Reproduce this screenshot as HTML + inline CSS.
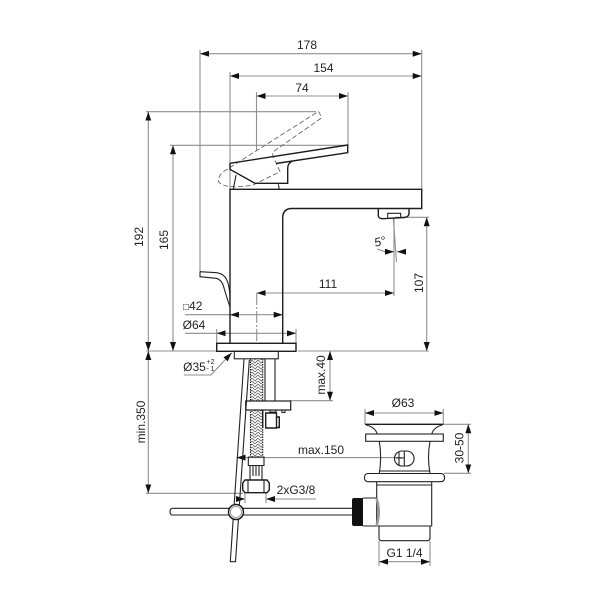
<!DOCTYPE html>
<html><head><meta charset="utf-8"><style>
html,body{margin:0;padding:0;background:#fff}
svg{display:block}
text{font-family:"Liberation Sans",sans-serif;font-size:12px;fill:#222;text-anchor:middle}
.d{stroke:#8f8f8f;stroke-width:1.1;fill:none}
.o{stroke:#222;stroke-width:1.1;fill:none}
.t{stroke:#1c1c1c;stroke-width:1.4;fill:none}
.w{stroke:#1c1c1c;stroke-width:1.2;fill:#fff}
</style></head><body>
<svg width="603" height="603" viewBox="0 0 603 603" xmlns="http://www.w3.org/2000/svg">
<defs>
<marker id="a" markerUnits="userSpaceOnUse" markerWidth="10" markerHeight="7" refX="9" refY="3" orient="auto-start-reverse"><path d="M0 0L9 3L0 6Z" fill="#111"/></marker>
<pattern id="br" width="6" height="6" patternUnits="userSpaceOnUse"><path d="M0 0L3 3L6 0M0 3L3 6L6 3" fill="none" stroke="#666" stroke-width=".8"/></pattern>
</defs>

<!-- extension lines -->
<path class="d" d="M200 50V272M230 72V189M256.500 92V150M348 92V146M421.700 50V189
M146 111.700H316M170 145.300H347M146 351H216M298 351H429M395 217.300H429
M185 314.700H230M185 333.300H217M216.700 329V343M296 329V343M290 400.700H333
M146 493.300H243M405 424.300H471M444 473.300H471M379 541V566M430 541V566
M245 493V503M266 493V503M394 219V296"/>
<path class="d" d="M256.700 293V343" stroke-dasharray="12 2 2 2"/>
<path class="d" d="M365 409V424M443.300 409V424"/>

<!-- dimension lines -->
<g class="d">
<path d="M200 53.700H421.700" marker-start="url(#a)" marker-end="url(#a)"/>
<path d="M230 76H421.700" marker-start="url(#a)" marker-end="url(#a)"/>
<path d="M256.500 96H348" marker-start="url(#a)" marker-end="url(#a)"/>
<path d="M148.300 111.700V351" marker-start="url(#a)" marker-end="url(#a)"/>
<path d="M173 145.300V351" marker-start="url(#a)" marker-end="url(#a)"/>
<path d="M426.700 217.300V351" marker-start="url(#a)" marker-end="url(#a)"/>
<path d="M256.700 293H394" marker-start="url(#a)" marker-end="url(#a)"/>
<path d="M230 314.700H282.700" marker-start="url(#a)" marker-end="url(#a)"/>
<path d="M216.700 333.300H296" marker-start="url(#a)" marker-end="url(#a)"/>
<path d="M330 351V400.700" marker-start="url(#a)" marker-end="url(#a)"/>
<path d="M148.300 351V493.300" marker-start="url(#a)" marker-end="url(#a)"/>
<path d="M236.500 457.600H402" marker-start="url(#a)"/>
<path d="M237 499H245" marker-end="url(#a)"/>
<path d="M316 499H266" marker-end="url(#a)"/>
<path d="M365 413H443.300" marker-start="url(#a)" marker-end="url(#a)"/>
<path d="M468.300 424.300V473.300" marker-start="url(#a)" marker-end="url(#a)"/>
<path d="M379 561.700H430" marker-start="url(#a)" marker-end="url(#a)"/>
<path d="M184 375H211L231.700 352.800" marker-end="url(#a)"/>
<path d="M393.300 218L396.500 262"/>
<path d="M377 249L385 251.700"/>
<path d="M385 251.700H394" marker-end="url(#a)"/>
<path d="M406 251.700H397" marker-end="url(#a)"/>
</g>

<!-- dashed lever -->
<path d="M318 111.700Q320 112 321 118.300L273.300 151.700Q272 154 273.300 156.700L280 171.700L253 185Q235 188 226.700 186Q218 184 218.300 180Q219 175 223.300 171.700Z" fill="none" stroke="#666" stroke-width=".9" stroke-dasharray="5 2.500"/>

<!-- handle -->
<path class="o" d="M236 175L233.300 189.300M278.300 184.300L279.300 189.300"/>
<path class="t" d="M230 163.300L347.700 145V152.700L276 163.500M230 163.300V169.300L255 183.300H287.700V168Q288 163 292 161.500"/>

<!-- body -->
<path class="t" d="M230 343V189.300H421.700V208.500H292Q282.700 208.500 282.700 218V343"/>
<path class="o" d="M200 271.700L216.700 272.700Q222 273.500 225 277Q230 283 230 301.700M200 271.700V276.700L216 278.300Q222 279.500 224 288Q226 295 230 307"/>
<!-- aerator -->
<path class="t" d="M378.300 208.500V216Q379 218.700 383 218.700L404 217.500Q408.500 217 409 214V208.500"/>
<path class="o" d="M387.700 217.500V213.300H400.700V217"/>

<!-- base -->
<rect class="t" x="216.700" y="343.300" width="79.300" height="8"/>
<rect class="o" x="234.300" y="351.300" width="44" height="7.500"/>

<!-- hose -->
<rect x="250.500" y="359" width="12" height="98" fill="url(#br)"/>
<path class="o" d="M250.500 359V457M262.700 359V457" stroke-dasharray="1.500 1"/>
<path class="o" d="M265 359V401M275 359V401"/>
<rect class="w" x="245.700" y="401" width="45" height="9" stroke-width="1.500"/>
<path class="o" d="M270 410V412H276V410M282 410V412.500H285V410"/>
<path class="t" d="M265.700 413H276.500V428H265.700ZM262.700 410V428M276.500 417H279.300V427.500H276.500"/>
<path class="o" d="M248.300 457H264V465.500H248.300ZM250 465.500V480M262 465.500V480M253 466V476M256 466V476M259 466V476"/>
<path class="t" d="M245 480H267L269.300 483V490L267 492.700H245L242.700 490V483Z"/>
<path class="o" d="M248 480V492.700M264 480V492.700"/>

<!-- tilted rod -->
<path class="o" d="M244 359.300L230.300 561.700H235.500L249.300 360"/>

<!-- waste rod -->
<path class="o" d="M352 508.300H243M229 508.300H172.500Q170 508.500 170 511.700Q170 515 172.500 515H229M243 515H352" stroke-width="1.300"/>
<circle cx="236" cy="512" r="7.500" fill="#fff" stroke="#1c1c1c" stroke-width="1.500"/>
<circle cx="236" cy="512" r="5.500" fill="#fff" stroke="#888" stroke-width=".8"/>

<!-- waste -->
<path class="t" d="M365 424.300H443.300"/>
<path class="o" d="M366 425Q375 427 377.300 434M442.300 425Q434 427 431.700 434"/>
<rect class="o" x="365.700" y="434" width="77.600" height="7.300"/>
<path class="o" d="M379.300 441.300Q382 457 379.300 473.300M430 441.300Q427 457 430 473.300M379.300 471H430"/>
<rect x="394.500" y="451" width="19.600" height="15" rx="7.500" class="o" stroke-width="1.500"/>
<path class="o" d="M399 451.500V465.500M404.300 451.500V465.500M396 458H404.300"/>
<rect class="o" x="364.500" y="473.500" width="80" height="8.200" rx="3.500"/>
<path class="o" d="M376.700 481.700V526H431.700V481.700M377 485H431.500"/>
<path class="o" d="M379 526V538Q379 540.700 382 540.700H427Q430 540.700 430 538V526"/>
<path class="o" d="M363 498H376.500Q381 512 376.500 526H363"/>
<path d="M376.500 498Q381 512 376.500 526" fill="none" stroke="#999" stroke-width="2.500"/>
<path d="M352 500Q352 498 354 498H363V526H354Q352 526 352 524Z" fill="#111"/>

<!-- labels -->
<text x="307" y="49">178</text>
<text x="323.500" y="72">154</text>
<text x="302" y="92">74</text>
<text x="328" y="288">111</text>
<text transform="translate(143,237) rotate(-90)">192</text>
<text transform="translate(168,240) rotate(-90)">165</text>
<text transform="translate(423,283) rotate(-90)">107</text>
<text transform="translate(325,375) rotate(-90)">max.40</text>
<text transform="translate(145,422) rotate(-90)">min.350</text>
<text transform="translate(463.500,448) rotate(-90)">30-50</text>
<text transform="translate(381,245.500) rotate(-14)" style="font-style:italic">5°</text>
<text x="183" y="310" style="text-anchor:start"><tspan style="font-size:10px">□</tspan>42</text>
<text x="194" y="329">Ø64</text>
<text x="194.500" y="371">Ø35</text>
<text x="210.500" y="364" style="font-size:7px">+2</text>
<text x="210.500" y="371" style="font-size:7px">- 1</text>
<text x="321" y="454">max.150</text>
<text x="296" y="494">2xG3/8</text>
<text x="403" y="407">Ø63</text>
<text x="404.500" y="557">G1 1/4</text>
</svg>
</body></html>
